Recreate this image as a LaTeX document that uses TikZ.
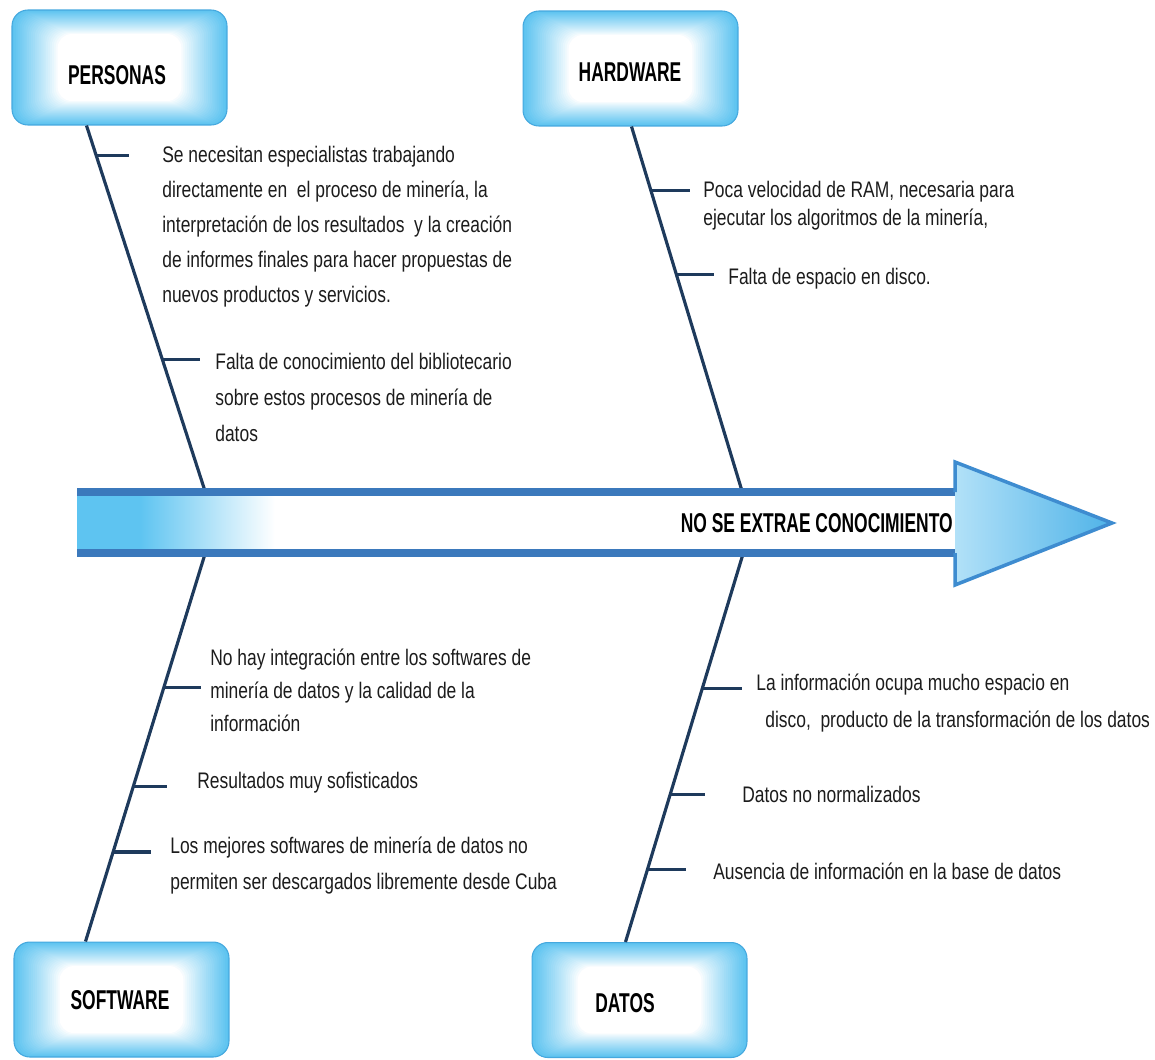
\documentclass[tikz,border=0pt]{standalone}
\usepackage{fontspec}
\setmainfont[FakeStretch=0.775]{Liberation Sans}
\newfontfamily\labelfont[FakeStretch=0.64]{Liberation Sans}
\usetikzlibrary{calc}

\definecolor{boxblue}{HTML}{5CC3F0}
\definecolor{boxedge}{HTML}{45A8DE}
\definecolor{arrowblue}{HTML}{5EC4F1}
\definecolor{stripecol}{HTML}{3B79BC}
\definecolor{headlight}{HTML}{B2E1F8}
\definecolor{headdark}{HTML}{4FB3E8}
\definecolor{headedge}{HTML}{3E8CD0}
\definecolor{spinecol}{HTML}{1E3A5C}
\definecolor{textgray}{HTML}{1C1C1C}

\begin{document}
\begin{tikzpicture}[x=0.02cm,y=-0.02cm,
  catbox/.style={draw=boxedge, line width=0.6pt, rounded corners=9pt,
    minimum width=4.3cm, minimum height=2.3cm, inner sep=0pt,
    path picture={
      \foreach \k in {0,...,24}{
        \pgfmathsetmacro{\mix}{100*(1-\k/24)^0.9}
        \fill[boxblue!\mix!white, rounded corners=8pt]
          ($(path picture bounding box.south west)+(1.9*\k,-1.0*\k)$) rectangle
          ($(path picture bounding box.north east)+(-1.9*\k,1.0*\k)$);
      }
    }},
  catlabel/.style={font=\labelfont\bfseries\fontsize{15.5}{18}\selectfont, text=black, inner sep=0pt},
  cause/.style={anchor=base west, align=left, inner sep=0pt, text=textgray},
  spine/.style={draw=spinecol, line width=1.8pt},
  rib/.style={draw=spinecol, line width=1.8pt},
  stripe/.style={draw=stripecol, line width=4.2pt}]

\useasboundingbox (0,0) rectangle (1155,1059);

% category boxes
\node[catbox] (pers) at (119.5,67.5) {};
\node[catbox] (hw)   at (630.5,68.5) {};
\node[catbox] (sw)   at (121.5,999.5) {};
\node[catbox] (dat)  at (639.5,1000) {};

\node[catlabel] (persL) at (117,75)   {PERSONAS};
\node[catlabel] (hwL)   at (630,72)   {HARDWARE};
\node[catlabel] (swL)   at (120,1000) {SOFTWARE};
\node[catlabel] (datL)  at (625,1003) {DATOS};

% where the bones meet the boxes and the main arrow
\coordinate (persB) at ($(pers.south west)+(75,0)$);
\coordinate (hwB)   at ($(hw.south west)+(109,0)$);
\coordinate (swB)   at ($(sw.north west)+(72,0)$);
\coordinate (datB)  at ($(dat.north west)+(94,0)$);
\coordinate (aP) at (205,491);
\coordinate (aH) at (742,491);
\coordinate (aS) at (205,554);
\coordinate (aD) at (743,554);

% main bones
\draw[spine] (persB) -- (aP);
\draw[spine] (hwB) -- (aH);
\draw[spine] (aS) -- (swB);
\draw[spine] (aD) -- (datB);

% main arrow
\fill[arrowblue] (77,492) rectangle (140,553);
\shade[left color=arrowblue, right color=white] (140,492) rectangle (275,553);
\draw[stripe] (77,492) -- (955,492);
\draw[stripe] (77,553) -- (955,553);
\shade[left color=headlight, right color=headdark] (955,462) -- (1112,523) -- (955,585) -- cycle;
\draw[headedge, line width=2pt, line join=miter] (955,492) -- (955,462) -- (1112,523) -- (955,585) -- (955,553);
\node[catlabel, anchor=east] (effect) at (953,523) {NO SE EXTRAE CONOCIMIENTO};

% ribs
\coordinate (pr1) at ($(persB)!0.082!(aP)$);
\coordinate (pr2) at ($(persB)!0.641!(aP)$);
\coordinate (hr1) at ($(hwB)!0.176!(aH)$);
\coordinate (hr2) at ($(hwB)!0.405!(aH)$);
\coordinate (sr1) at ($(aS)!0.345!(swB)$);
\coordinate (sr2) at ($(aS)!0.601!(swB)$);
\coordinate (sr3) at ($(aS)!0.769!(swB)$);
\coordinate (dr1) at ($(aD)!0.346!(datB)$);
\coordinate (dr2) at ($(aD)!0.620!(datB)$);
\coordinate (dr3) at ($(aD)!0.814!(datB)$);

\draw[rib] (pr1) -- ++(33,0);
\draw[rib] (pr2) -- ++(38,0);
\draw[rib] (hr1) -- ++(39,0);
\draw[rib] (hr2) -- ++(38,0);
\draw[rib] (sr1) -- ++(37,0);
\draw[rib] (sr2) -- ++(34,0);
\draw[rib] (sr3) -- ++(38,0);
\draw[rib] (dr1) -- ++(40,0);
\draw[rib] (dr2) -- ++(35,0);
\draw[rib] (dr3) -- ++(39,0);

% causes (each node sits on the baseline of its last line)
\node[cause, font=\fontsize{12.8}{19.8}\selectfont] (p1) at (162,302)
  {Se necesitan especialistas trabajando\\directamente en\ \ el proceso de miner\'ia, la\\interpretaci\'on de los resultados\ \ y la creaci\'on\\de informes finales para hacer propuestas de\\nuevos productos y servicios.};
\node[cause, font=\fontsize{12.8}{20.3}\selectfont] (p2) at (215,441)
  {Falta de conocimiento del bibliotecario\\sobre estos procesos de miner\'ia de\\datos};
\node[cause, font=\fontsize{12.8}{15.9}\selectfont] (h1) at (703,225)
  {Poca velocidad de RAM, necesaria para\\ejecutar los algoritmos de la miner\'ia,};
\node[cause, font=\fontsize{12.8}{15.9}\selectfont] (h2) at (728,284)
  {Falta de espacio en disco.};
\node[cause, font=\fontsize{12.8}{18.7}\selectfont] (s1) at (210,731)
  {No hay integraci\'on entre los softwares de\\miner\'ia de datos y la calidad de la\\informaci\'on};
\node[cause, font=\fontsize{12.8}{18.7}\selectfont] (s2) at (197,788)
  {Resultados muy sofisticados};
\node[cause, font=\fontsize{12.8}{20.3}\selectfont] (s3) at (170,889)
  {Los mejores softwares de miner\'ia de datos no\\permiten ser descargados libremente desde Cuba};
\node[cause, font=\fontsize{12.8}{21}\selectfont] (d1) at (756,727)
  {La informaci\'on ocupa mucho espacio en\\\hspace*{0.18cm}disco,\ \ producto de la transformaci\'on de los datos};
\node[cause, font=\fontsize{12.8}{18.7}\selectfont] (d2) at (742,802)
  {Datos no normalizados};
\node[cause, font=\fontsize{12.8}{18.7}\selectfont] (d3) at (713,879)
  {Ausencia de informaci\'on en la base de datos};

\end{tikzpicture}
\end{document}
